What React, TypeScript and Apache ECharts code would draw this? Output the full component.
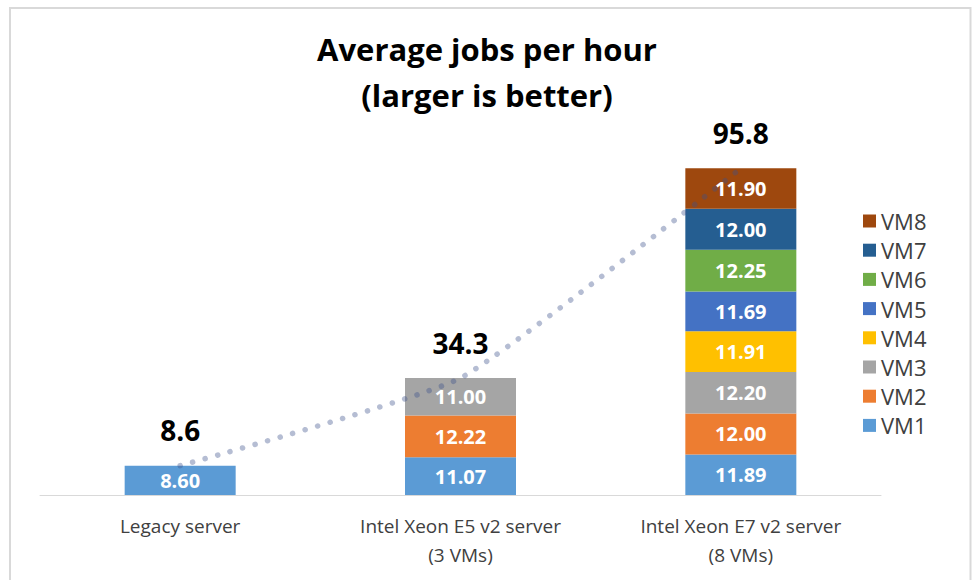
import React, { useEffect, useRef } from "react";
import * as echarts from "echarts";

const categories = ["Legacy server", "Intel Xeon E5 v2 server\n(3 VMs)", "Intel Xeon E7 v2 server\n(8 VMs)"];
const seriesNames = ["VM1", "VM2", "VM3", "VM4", "VM5", "VM6", "VM7", "VM8"];
const vm1 = [8.6, 11.07, 11.89];
const vm2 = [null, 12.22, 12.0];
const vm3 = [null, 11.0, 12.2];
const vm4 = [null, null, 11.91];
const vm5 = [null, null, 11.69];
const vm6 = [null, null, 12.25];
const vm7 = [null, null, 12.0];
const vm8 = [null, null, 11.9];
const totals = [8.6, 34.3, 95.8];
const colors = ["#5B9BD5", "#ED7D31", "#A5A5A5", "#FFC000", "#4472C4", "#70AD47", "#255E91", "#9E480E"];
const FONT = "'Open Sans', 'Noto Sans', sans-serif";

export default function App() {
  const ref = useRef<HTMLDivElement>(null);
  useEffect(() => {
    document.body.style.margin = "0";
    const chart = echarts.init(ref.current!, null, { renderer: "svg" });
    const vmData = [vm1, vm2, vm3, vm4, vm5, vm6, vm7, vm8];
    const barSeries = vmData.map((d, i) => ({
      name: seriesNames[i],
      type: "bar",
      stack: "total",
      data: d,
      barWidth: 111,
      itemStyle: { color: colors[i] },
      label: {
        show: true,
        position: "inside",
        color: "#fff",
        fontFamily: FONT,
        fontWeight: "bold",
        fontSize: 20,
        formatter: (p: any) => (p.value == null ? "" : Number(p.value).toFixed(2)),
      },
    }));
    chart.setOption({
      animation: false,
      textStyle: { fontFamily: FONT },
      title: {
        text: "Average jobs per hour\n(larger is better)",
        left: "center",
        top: 21,
        textStyle: { fontFamily: FONT, fontWeight: "bold", fontSize: 31, lineHeight: 46, color: "#000" },
      },
      legend: {
        orient: "vertical",
        left: 858,
        top: 205,
        itemWidth: 13,
        itemHeight: 13,
        itemGap: 7.2,
        data: [...seriesNames].reverse(),
        textStyle: { fontFamily: FONT, fontSize: 22, lineHeight: 22, color: "#404040", padding: [0, 0, 0, 0] },
        icon: "rect",
      },
      grid: { left: 40, right: 93, top: 154, bottom: 85 },
      xAxis: {
        type: "category",
        data: categories,
        axisTick: { show: false },
        axisLine: { lineStyle: { color: "#d9d9d9", width: 1 } },
        axisLabel: { fontFamily: FONT, fontSize: 19, lineHeight: 29, color: "#404040", margin: 16 },
      },
      yAxis: { type: "value", min: 0, max: 100, show: false, splitLine: { show: false } },
      graphic: [
        {
          type: "rect",
          shape: { x: 10, y: 8, width: 960.5, height: 620 },
          style: { fill: "none", stroke: "#d9d9d9", lineWidth: 2 },
          silent: true,
        },
      ],
      series: [
        ...barSeries,
        {
          name: "Total",
          type: "line",
          data: totals,
          smooth: 0.15,
          symbol: "circle",
          symbolSize: 1,
          showSymbol: true,
          itemStyle: { color: "rgba(0,0,0,0)" },
          z: 10,
          lineStyle: { color: "rgba(60,82,140,0.38)", width: 5.5, type: [0.1, 12.9], cap: "round" },
          label: {
            show: true,
            position: "top",
            distance: 21,
            fontFamily: FONT,
            fontWeight: "bold",
            fontSize: 28,
            color: "#000",
            formatter: (p: any) => Number(p.value).toFixed(1),
          },
        },
      ],
    });
    return () => chart.dispose();
  }, []);
  return <div ref={ref} style={{ width: 974, height: 580 }} />;
}
